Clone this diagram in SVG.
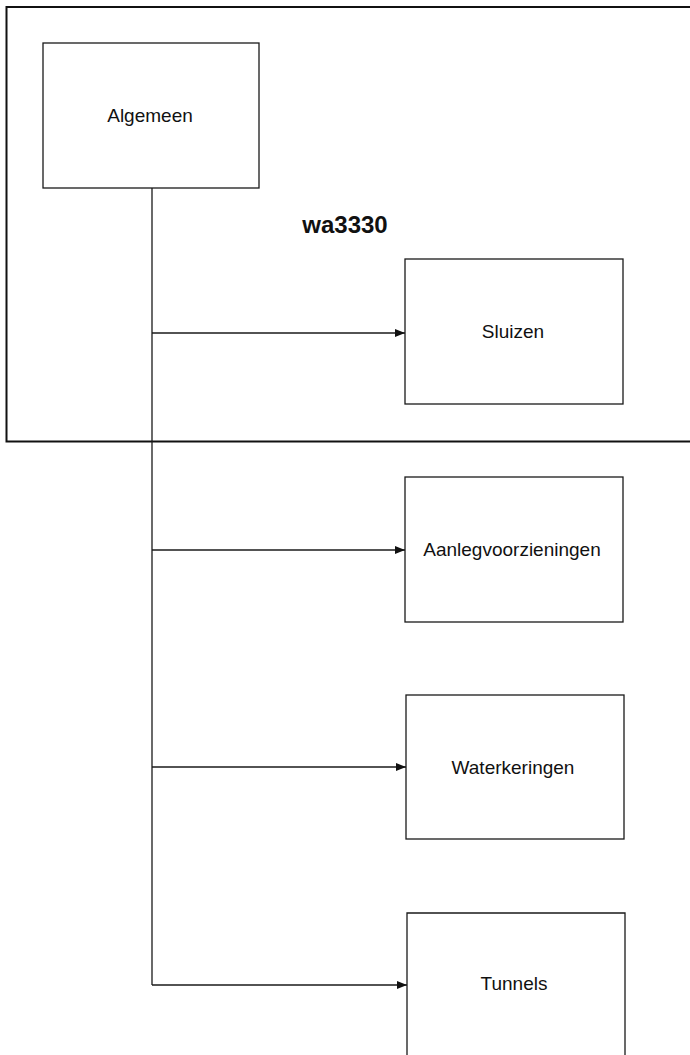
<svg xmlns="http://www.w3.org/2000/svg" width="690" height="1055" viewBox="0 0 690 1055">
<style>
.box{fill:#fff;stroke:#1a1a1a;stroke-width:1.3}
.frame{fill:none;stroke:#111;stroke-width:2}
.conn{fill:none;stroke:#1a1a1a;stroke-width:1.3}
.lbl{font-family:"Liberation Sans",Arial,sans-serif;font-size:19px;fill:#111;text-anchor:middle}
.title{font-family:"Liberation Sans",Arial,sans-serif;font-size:24px;font-weight:bold;fill:#111;text-anchor:middle}
</style>
<defs>
<marker id="arr" viewBox="0 0 10 8" refX="10" refY="4" markerWidth="10" markerHeight="8" markerUnits="userSpaceOnUse" orient="auto">
<path d="M0,0 L10,4 L0,8 z" fill="#111"/>
</marker>
</defs>
<rect width="690" height="1055" fill="#fff"/>
<g id="frame-wa3330">
<path class="frame" d="M690,7 L6.5,7 L6.5,441.5 L690,441.5"/>
<text class="title" x="345" y="233">wa3330</text>
</g>
<g id="connectors">
<path class="conn" d="M152,188 L152,985"/>
<path class="conn" d="M152,333 L405,333" marker-end="url(#arr)"/>
<path class="conn" d="M152,550 L405,550" marker-end="url(#arr)"/>
<path class="conn" d="M152,767 L406,767" marker-end="url(#arr)"/>
<path class="conn" d="M152,985 L407,985" marker-end="url(#arr)"/>
</g>
<g id="node-algemeen">
<rect class="box" x="43" y="43" width="216" height="145"/>
<text class="lbl" x="150" y="122">Algemeen</text>
</g>
<g id="node-sluizen">
<rect class="box" x="405" y="259" width="218" height="145"/>
<text class="lbl" x="513" y="338">Sluizen</text>
</g>
<g id="node-aanlegvoorzieningen">
<rect class="box" x="405" y="477" width="218" height="145"/>
<text class="lbl" x="512" y="556">Aanlegvoorzieningen</text>
</g>
<g id="node-waterkeringen">
<rect class="box" x="406" y="695" width="218" height="144"/>
<text class="lbl" x="513" y="774">Waterkeringen</text>
</g>
<g id="node-tunnels">
<path class="box" d="M407,1056 L407,913 L625,913 L625,1056"/>
<text class="lbl" x="514" y="990">Tunnels</text>
</g>
</svg>
